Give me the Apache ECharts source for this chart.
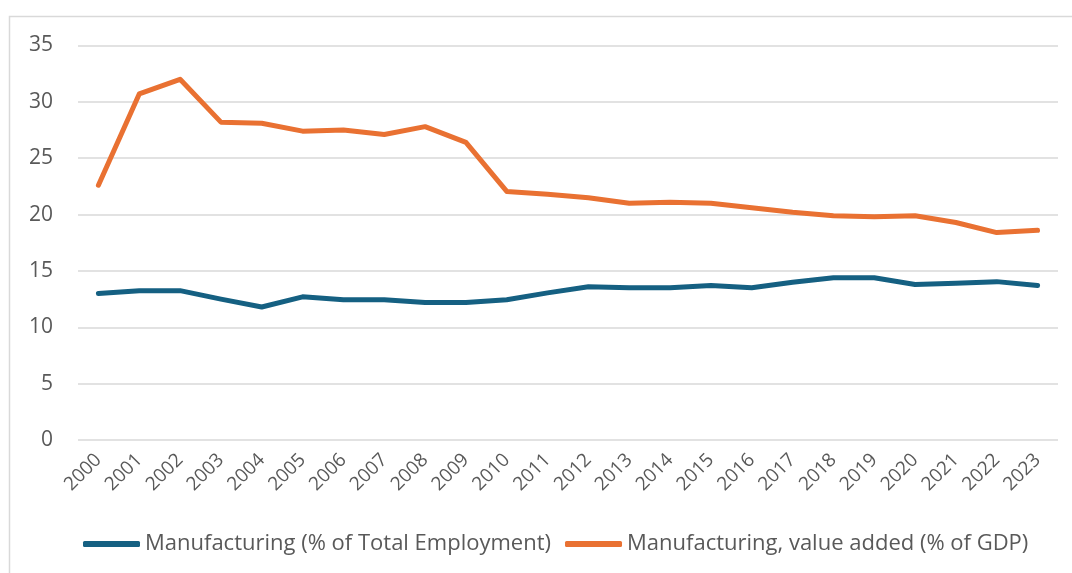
<!DOCTYPE html>
<html>
<head>
<meta charset="utf-8">
<script src="https://cdn.jsdelivr.net/npm/echarts@6/dist/echarts.min.js"></script>
<style>
  html, body { margin: 0; padding: 0; background: #fff; }
  #chart { width: 1072px; height: 573px; }
</style>
</head>
<body>
<div id="chart"></div>
<script>
const years = ['2000','2001','2002','2003','2004','2005','2006','2007','2008','2009','2010','2011',
  '2012','2013','2014','2015','2016','2017','2018','2019','2020','2021','2022','2023']
// employment share
const employment = [13.0, 13.25, 13.25, 12.5, 11.8, 12.7, 12.45, 12.45, 12.2, 12.2, 12.45, 13.05,
  13.6, 13.5, 13.5, 13.7, 13.5, 14.0, 14.4, 14.4, 13.8, 13.9, 14.05, 13.7]
// value added, % of GDP
const valueAdded = [22.6, 30.7, 32.0, 28.2, 28.1, 27.4, 27.5, 27.1, 27.8, 26.4, 22.05, 21.8,
  21.5, 21.0, 21.1, 21.0, 20.6, 20.2, 19.9, 19.8, 19.9, 19.3, 18.4, 18.6]
const seriesNames = ['Manufacturing (% of Total Employment)', 'Manufacturing, value added (% of GDP)']

const font = '"Open Sans", "Noto Sans", sans-serif'
const chart = echarts.init(document.getElementById('chart'))

chart.setOption({
  animation: false,
  textStyle: { fontFamily: font },
  graphic: [{
    type: 'rect',
    shape: { x: 9.5, y: 16.5, width: 1100, height: 600 },
    style: { fill: 'none', stroke: '#d9d9d9', lineWidth: 1.5 },
    silent: true
  }],
  grid: { left: 78, right: 14, top: 45.5, bottom: 133 },
  legend: {
    left: 78,
    top: 528,
    icon: 'roundRect',
    itemWidth: 57,
    itemHeight: 6,
    itemGap: 14,
    textStyle: { fontSize: 22, color: '#595959', fontFamily: font },
    data: seriesNames
  },
  xAxis: {
    type: 'category',
    data: years,
    boundaryGap: true,
    axisLine: { show: false },
    axisTick: { show: false },
    axisLabel: { rotate: 45, fontSize: 19, color: '#595959', margin: 17, interval: 0 }
  },
  yAxis: {
    type: 'value',
    min: 0,
    max: 35,
    interval: 5,
    axisLine: { show: false },
    axisTick: { show: false },
    axisLabel: { fontSize: 21, color: '#595959', margin: 25 },
    splitLine: { lineStyle: { color: '#d9d9d9', width: 1.5 } }
  },
  series: [
    {
      name: seriesNames[0],
      type: 'line',
      data: employment,
      symbol: 'none',
      color: '#156082',
      lineStyle: { width: 5, cap: 'round', join: 'round' }
    },
    {
      name: seriesNames[1],
      type: 'line',
      data: valueAdded,
      symbol: 'none',
      color: '#e97132',
      lineStyle: { width: 5, cap: 'round', join: 'round' }
    }
  ]
})
</script>
</body>
</html>
